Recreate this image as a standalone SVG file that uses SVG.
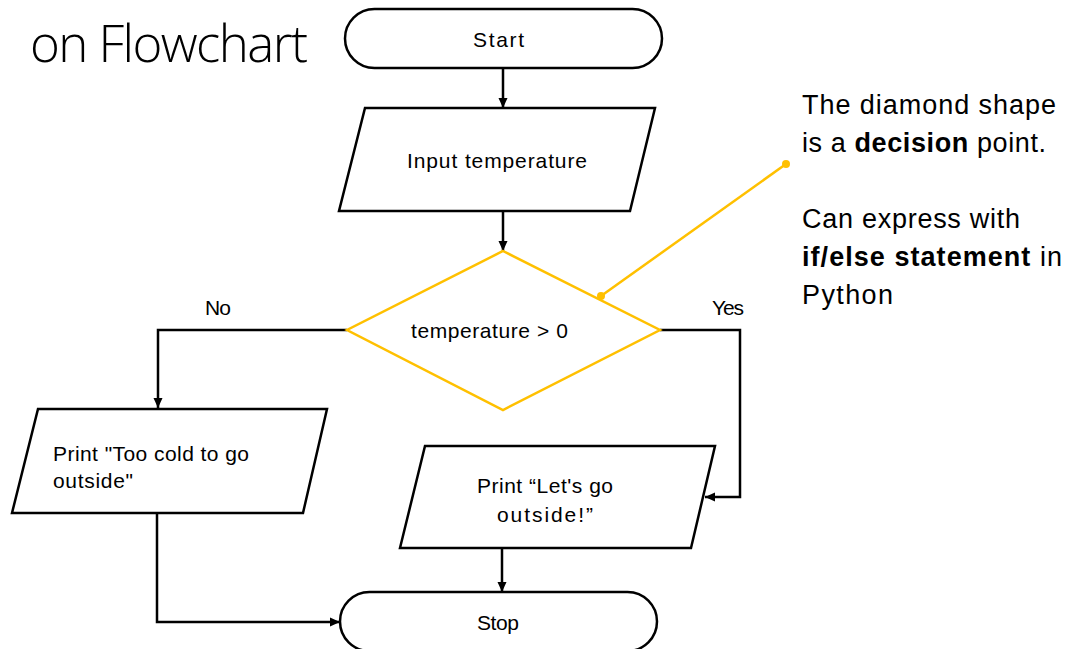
<svg xmlns="http://www.w3.org/2000/svg" width="1073" height="649" viewBox="0 0 1073 649">
  <defs>
    <marker id="arrow" markerUnits="userSpaceOnUse" markerWidth="10" markerHeight="10" viewBox="0 0 10 10" refX="10" refY="5" orient="auto">
      <path d="M0,0.5 L10,5 L0,9.5 Z" fill="#000"/>
    </marker>
    <style>
      .shape { fill: #fff; stroke: #000; stroke-width: 2.5; stroke-linejoin: miter; }
      .decision { fill: #fff; stroke: #FFC000; stroke-width: 2.5; }
      .flow { fill: none; stroke: #000; stroke-width: 2.5; marker-end: url(#arrow); }
      .lbl { font-family: "Liberation Sans", Arial, sans-serif; font-size: 21px; fill: #000; }
      .note { font-family: "Liberation Sans", Arial, sans-serif; font-size: 27px; fill: #000; }
      .title { font-family: "Open Sans", "Lato", "Liberation Sans", sans-serif; font-weight: 300; font-size: 51px; fill: #000; }
    </style>
  </defs>

  <!-- heading -->
  <text class="title" x="30" y="62" textLength="278">on Flowchart</text>

  <!-- connectors -->
  <g id="connectors">
    <line class="flow" x1="503" y1="68" x2="503" y2="108"/>
    <line class="flow" x1="503" y1="211" x2="503" y2="251"/>
    <polyline class="flow" points="347,330 158,330 158,408"/>
    <polyline class="flow" points="660,330 740,330 740,497 705,497"/>
    <polyline class="flow" points="157,513 157,622 340,622"/>
    <line class="flow" x1="502" y1="548" x2="502" y2="592"/>
    <text class="lbl" x="205" y="315" textLength="26">No</text>
    <text class="lbl" x="712" y="315" textLength="32">Yes</text>
  </g>

  <g id="start">
    <rect class="shape" x="345" y="9" width="317" height="59" rx="29.5"/>
    <text class="lbl" x="473" y="47" textLength="51">Start</text>
  </g>

  <g id="input">
    <polygon class="shape" points="365,108 655,108 630,211 339,211"/>
    <text class="lbl" x="407" y="168" textLength="180">Input temperature</text>
  </g>

  <g id="decision">
    <polygon class="decision" points="503,251 660,330 503,410 347,330"/>
    <text class="lbl" x="411" y="338" textLength="157">temperature &gt; 0</text>
  </g>

  <g id="too-cold">
    <polygon class="shape" points="38,409 327,409 303,513 12,513"/>
    <text class="lbl" x="53" y="461" textLength="196">Print "Too cold to go</text>
    <text class="lbl" x="53" y="488" textLength="80">outside"</text>
  </g>

  <g id="go-outside">
    <polygon class="shape" points="425,446 715,446 691,548 400,548"/>
    <text class="lbl" x="477" y="493" textLength="136">Print “Let's go</text>
    <text class="lbl" x="497" y="522" textLength="96">outside!”</text>
  </g>

  <g id="stop">
    <rect class="shape" x="340" y="592" width="317" height="59" rx="29.5"/>
    <text class="lbl" x="477" y="630" textLength="42">Stop</text>
  </g>

  <!-- callout -->
  <g id="callout">
    <line x1="786" y1="164" x2="601" y2="296" stroke="#FFC000" stroke-width="2.5"/>
    <circle cx="786" cy="164" r="4" fill="#FFC000"/>
    <circle cx="601" cy="296" r="4" fill="#FFC000"/>
    <text class="note" x="802" y="114" textLength="254">The diamond shape</text>
    <text class="note" x="802" y="152" textLength="244">is a <tspan font-weight="bold">decision</tspan> point.</text>
    <text class="note" x="802" y="228" textLength="218">Can express with</text>
    <text class="note" x="802" y="266" textLength="260"><tspan font-weight="bold">if/else statement</tspan> in</text>
    <text class="note" x="802" y="304" textLength="91">Python</text>
  </g>
</svg>
